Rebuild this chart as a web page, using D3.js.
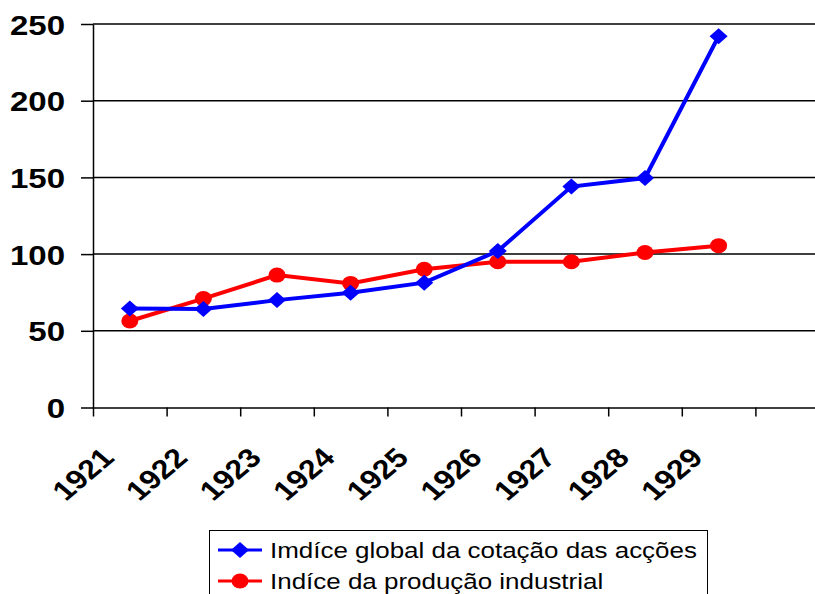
<!DOCTYPE html>
<html>
<head>
<meta charset="utf-8">
<script src="https://cdn.jsdelivr.net/npm/d3@7"></script>
<style>
  html, body { margin: 0; padding: 0; background: #fff; }
  svg { display: block; font-family: "Liberation Sans", Arial, sans-serif; }
</style>
</head>
<body>
<div id="chart"></div>
<script>
const years = ["1921", "1922", "1923", "1924", "1925", "1926", "1927", "1928", "1929"]
const stockIndex = [64.6, 64.2, 70, 74.8, 81.4, 102, 144, 149.6, 242]
const industryIndex = [56.4, 71, 86.3, 80.9, 90.1, 95, 95, 101, 105.5]
const yTicks = [0, 50, 100, 150, 200, 250]
const seriesNames = ["Imdíce global da cotação das acções", "Indíce da produção industrial"]

const W = 815, H = 594
const STRETCH = 1.18   // the original picture is a bit wider than tall
const svg = d3.select("#chart").append("svg")
    .attr("width", W)
    .attr("height", H)

// 10 category slots, last one empty and cut by the picture edge
const x = d3.scaleLinear().domain([0, 10]).range([93, 829])
const y = d3.scaleLinear().domain([0, 250]).range([407.5, 24])

// gridlines
svg.append("g")
    .selectAll("line")
    .data(yTicks.filter(d => d > 0))
    .join("line")
    .attr("x1", x(0))
    .attr("x2", x(10))
    .attr("y1", d => y(d))
    .attr("y2", d => y(d))
    .attr("stroke", "#000")
    .attr("stroke-width", 1.5)

// y axis
const yAxis = svg.append("g")
    .attr("transform", `translate(${x(0)},0)`)
    .call(d3.axisLeft(y).tickValues(yTicks).tickSize(12).tickSizeOuter(0))
yAxis.select(".domain").attr("stroke", "#000").attr("stroke-width", 1.5)
yAxis.selectAll(".tick line").attr("stroke", "#000").attr("stroke-width", 1.5)
yAxis.selectAll(".tick text")
    .attr("x", -28 / STRETCH)
    .attr("dy", "0.36em")
    .attr("transform", `scale(${STRETCH},1)`)
    .attr("fill", "#000")
    .style("font-size", "28px")
    .style("font-weight", "bold")

// x axis
const xAxis = svg.append("g")
    .attr("transform", `translate(0,${y(0)})`)
    .call(d3.axisBottom(x).tickValues(d3.range(0, 11)).tickSize(9).tickFormat("").tickSizeOuter(0))
xAxis.select(".domain").attr("stroke", "#000").attr("stroke-width", 1.5)
xAxis.selectAll(".tick line").attr("stroke", "#000").attr("stroke-width", 1.5)

svg.append("g")
    .selectAll("text")
    .data(years)
    .join("text")
    .attr("transform", (d, i) => `translate(${x(i + 0.5) - 14},${y(0) + 52}) scale(${STRETCH},1) rotate(-45)`)
    .attr("text-anchor", "end")
    .style("font-size", "27px")
    .style("font-weight", "bold")
    .attr("fill", "#000")
    .text(d => d)

const line = d3.line()
    .x((d, i) => x(i + 0.5))
    .y(d => y(d))

const diamondType = {
    draw(ctx) {
        ctx.moveTo(0, -8)
        ctx.lineTo(9, 0)
        ctx.lineTo(0, 8)
        ctx.lineTo(-9, 0)
        ctx.closePath()
    }
}
const diamond = d3.symbol().type(diamondType)

// industrial production (red circles)
svg.append("path")
    .datum(industryIndex)
    .attr("d", line)
    .attr("fill", "none")
    .attr("stroke", "#ff0000")
    .attr("stroke-width", 4)
svg.append("g")
    .selectAll("ellipse")
    .data(industryIndex)
    .join("ellipse")
    .attr("cx", (d, i) => x(i + 0.5))
    .attr("cy", d => y(d))
    .attr("rx", 8.5)
    .attr("ry", 7.5)
    .attr("fill", "#ff0000")

// stock index (blue diamonds)
svg.append("path")
    .datum(stockIndex)
    .attr("d", line)
    .attr("fill", "none")
    .attr("stroke", "#0000ff")
    .attr("stroke-width", 4)
svg.append("g")
    .selectAll("path")
    .data(stockIndex)
    .join("path")
    .attr("transform", (d, i) => `translate(${x(i + 0.5)},${y(d)})`)
    .attr("d", diamond)
    .attr("fill", "#0000ff")

// legend
const legend = svg.append("g")
legend.append("rect")
    .attr("x", 209.5)
    .attr("y", 530.5)
    .attr("width", 498)
    .attr("height", 80)
    .attr("fill", "none")
    .attr("stroke", "#000")
    .attr("stroke-width", 1)

const legendRows = [
    { name: seriesNames[0], color: "#0000ff", shape: "diamond" },
    { name: seriesNames[1], color: "#ff0000", shape: "circle" }
]
legendRows.forEach((r, i) => {
    const cy = 550 + i * 31
    legend.append("line")
        .attr("x1", 218).attr("x2", 262)
        .attr("y1", cy).attr("y2", cy)
        .attr("stroke", r.color)
        .attr("stroke-width", 3)
    if (r.shape === "diamond") {
        legend.append("path")
            .attr("transform", `translate(240,${cy})`)
            .attr("d", diamond)
            .attr("fill", r.color)
    } else {
        legend.append("ellipse")
            .attr("cx", 240).attr("cy", cy).attr("rx", 8.5).attr("ry", 7.5)
            .attr("fill", r.color)
    }
    legend.append("text")
        .attr("transform", `translate(270,${cy + 8}) scale(${STRETCH},1)`)
        .style("font-size", "22px")
        .attr("fill", "#000")
        .text(r.name)
})
</script>
</body>
</html>
